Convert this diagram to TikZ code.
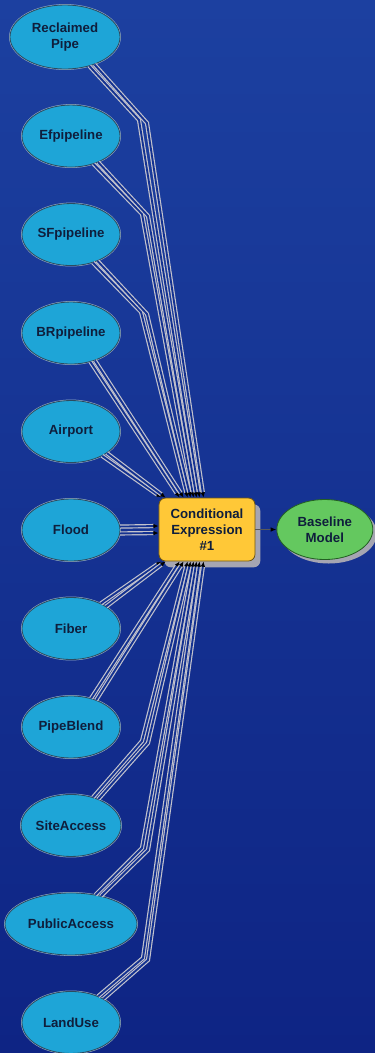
\documentclass[tikz,border=0pt]{standalone}
\usepackage{fontspec}
\setmainfont{Liberation Sans}
\usetikzlibrary{arrows.meta,positioning,shapes.geometric,shadows,calc}
\definecolor{bgtop}{RGB}{28,64,160}
\definecolor{bgbot}{RGB}{14,36,132}
\definecolor{bgmid}{RGB}{20,50,145}
\definecolor{srcfill}{RGB}{30,165,215}
\definecolor{srcline}{RGB}{45,75,95}
\definecolor{srchalo}{RGB}{150,175,200}
\definecolor{condfill}{RGB}{255,200,55}
\definecolor{condline}{RGB}{110,85,20}
\definecolor{outfill}{RGB}{100,200,95}
\definecolor{outline}{RGB}{35,95,35}
\definecolor{labelcol}{RGB}{15,30,60}
\definecolor{wire}{RGB}{195,195,205}
\definecolor{shadowcol}{RGB}{165,165,178}

\begin{document}
\begin{tikzpicture}[
    x=0.03cm, y=-0.03cm,
    every node/.style={font=\fontsize{11.3}{13.6}\selectfont\bfseries, text=labelcol, align=center},
    src/.style={ellipse, draw=srcline, line width=0.7pt, fill=srcfill, minimum width=2.94cm, minimum height=1.86cm, inner sep=0pt,
      preaction={draw=srchalo, line width=1.6pt}},
    cond/.style={rectangle, rounded corners=0.2cm, draw=condline, line width=0.7pt, fill=condfill, minimum width=2.88cm, minimum height=1.89cm, inner sep=0pt,
      drop shadow={shadow xshift=0.16cm, shadow yshift=-0.19cm, fill=shadowcol, opacity=1}},
    result/.style={ellipse, draw=outline, line width=0.7pt, fill=outfill, minimum width=2.88cm, minimum height=1.8cm, inner sep=0pt,
      drop shadow={shadow xshift=0.12cm, shadow yshift=-0.12cm, fill=shadowcol, opacity=1}},
    conn/.style={draw=wire, line width=1pt, double=bgmid, double distance=1.6pt, -{Latex[black,length=4.5pt,width=4pt]}},
    node distance=1.07cm
    ]
    \fill[top color=bgtop, bottom color=bgbot] (0,0) rectangle (375,1053);
    \useasboundingbox (0,0) rectangle (375,1053);
    \node[src, minimum width=3.3cm, minimum height=1.92cm] (rp) at (65,37) {Reclaimed\\Pipe};
    \node[src] (fl) at (71,530) {Flood};
    \node[src, above=of fl] (ap) {Airport};
    \node[src, above=of ap] (br) {BRpipeline};
    \node[src, above=of br] (sf) {SFpipeline};
    \node[src, above=of sf] (ef) {Efpipeline};
    \node[src, below=of fl] (fb) {Fiber};
    \node[src, below=of fb] (pb) {PipeBlend};
    \node[src, below=of pb] (sa) {SiteAccess};
    \node[src, below=of sa, minimum width=3.96cm] (pa) {PublicAccess};
    \node[src, below=of pa] (lu) {LandUse};
    \node[cond] (box) at (207,529.5) {Conditional\\Expression\\\#1};
    \node[result, right=0.63cm of box] (bm) {Baseline\\Model};
    \coordinate (rpA) at (139,120); \coordinate (rpB) at (147,123);
    \coordinate (efA) at (142,214); \coordinate (efB) at (148,216);
    \coordinate (sfA) at (141,312); \coordinate (sfB) at (147,314);
    \coordinate (saA) at (142,741); \coordinate (saB) at (148,743);
    \coordinate (paA) at (142,848); \coordinate (paB) at (148,850);
    \coordinate (luA) at (143,958); \coordinate (luB) at (148,960);
    \draw[conn] (rp.-50) -- (rpA) -- ($(box.north west)+(41,0)$);
    \draw[conn] (rp.-43) -- (rpB) -- ($(box.north west)+(45,0)$);
    \draw[conn] (ef.-51) -- (efA) -- ($(box.north west)+(35,0)$);
    \draw[conn] (ef.-44) -- (efB) -- ($(box.north west)+(38,0)$);
    \draw[conn] (sf.-52) -- (sfA) -- ($(box.north west)+(29,0)$);
    \draw[conn] (sf.-45) -- (sfB) -- ($(box.north west)+(32,0)$);
    \draw[conn] (br.-56) -- ($(box.north west)+(21,0)$);
    \draw[conn] (br.-49) -- ($(box.north west)+(25,0)$);
    \draw[conn] (ap.-38) -- ($(box.north west)+(3,0)$);
    \draw[conn] (ap.-31) -- ($(box.north west)+(7,0)$);
    \draw[conn] (fl.4) -- ($(box.west)+(0,-3.5)$);
    \draw[conn] (fl.-4) -- ($(box.west)+(0,3.5)$);
    \draw[conn] (fb.40) -- ($(box.south west)+(3,0)$);
    \draw[conn] (fb.32) -- ($(box.south west)+(7,0)$);
    \draw[conn] (pb.55) -- ($(box.south west)+(21,0)$);
    \draw[conn] (pb.47) -- ($(box.south west)+(25,0)$);
    \draw[conn] (sa.52) -- (saA) -- ($(box.south west)+(29,0)$);
    \draw[conn] (sa.44) -- (saB) -- ($(box.south west)+(32,0)$);
    \draw[conn] (pa.50) -- (paA) -- ($(box.south west)+(35,0)$);
    \draw[conn] (pa.43) -- (paB) -- ($(box.south west)+(38,0)$);
    \draw[conn] (lu.44) -- (luA) -- ($(box.south west)+(41,0)$);
    \draw[conn] (lu.36) -- (luB) -- ($(box.south west)+(45,0)$);
    \draw[draw=black!65, line width=1pt, -{Latex[black,length=5pt,width=4pt]}] (box) -- (bm);
  \end{tikzpicture}
\end{document}
